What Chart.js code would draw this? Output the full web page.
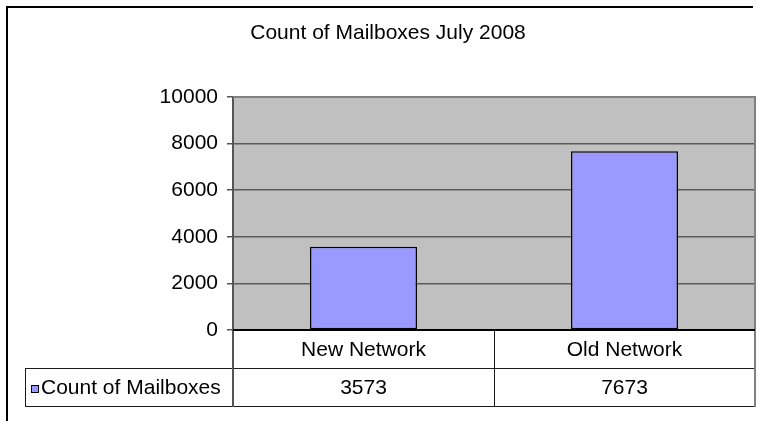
<!DOCTYPE html>
<html><head><meta charset="utf-8">
<script src="https://cdn.jsdelivr.net/npm/chart.js@4/dist/chart.umd.min.js"></script>
<style>html,body{margin:0;padding:0;background:#fff;}</style>
</head><body>
<canvas id="c" width="758" height="421" style="display:block;width:758px;height:421px"></canvas>
<script>
const titleText = 'Count of Mailboxes July 2008';
const categories = ['New Network', 'Old Network'];
const seriesName = 'Count of Mailboxes';
const mailboxCounts = [3573, 7673];
const yMin = 0, yMax = 10000, yStep = 2000;

const FONT = "'Liberation Sans', Arial, sans-serif";
const FSIZE = 21;
const BAR_COLOR = '#9999FF';

const excelDecor = {
  id: 'excelDecor',
  beforeDraw(chart) {
    const {ctx, chartArea: a} = chart;
    ctx.save();
    ctx.fillStyle = '#C0C0C0';
    ctx.fillRect(a.left, a.top, a.right - a.left, a.bottom - a.top);
    ctx.restore();
  },
  afterDraw(chart) {
    const {ctx, chartArea: a} = chart;
    const xs = chart.scales.x;
    ctx.save();
    // outer frame (top & left visible)
    ctx.strokeStyle = '#000';
    ctx.lineWidth = 2;
    ctx.beginPath();
    ctx.moveTo(7, 421); ctx.lineTo(7, 7); ctx.lineTo(753, 7);
    ctx.stroke();

    // title
    ctx.fillStyle = '#000';
    ctx.font = FSIZE + 'px ' + FONT;
    ctx.textAlign = 'center';
    ctx.textBaseline = 'middle';
    ctx.fillText(titleText, 388, 33);

    // plot border top / right
    ctx.strokeStyle = '#808080';
    ctx.lineWidth = 2;
    ctx.beginPath();
    ctx.moveTo(a.left, a.top); ctx.lineTo(a.right, a.top); ctx.lineTo(a.right, a.bottom);
    ctx.stroke();

    // data table
    const rowH = 38;
    const r1Top = a.bottom, r1Bot = a.bottom + rowH, r2Bot = a.bottom + 2 * rowH;
    const legendLeft = 25;
    const colW = (a.right - a.left) / categories.length;
    ctx.strokeStyle = '#1a1a1a';
    ctx.lineWidth = 1;
    ctx.beginPath();
    ctx.moveTo(a.left, r1Top + 0.5); ctx.lineTo(a.right, r1Top + 0.5);
    ctx.moveTo(legendLeft, r1Bot + 0.5); ctx.lineTo(a.right, r1Bot + 0.5);
    ctx.moveTo(legendLeft, r2Bot + 0.5); ctx.lineTo(a.right, r2Bot + 0.5);
    ctx.moveTo(legendLeft + 0.5, r1Bot); ctx.lineTo(legendLeft + 0.5, r2Bot);
    for (let i = 1; i < categories.length; i++) {
      const x = Math.round(a.left + colW * i) + 0.5;
      ctx.moveTo(x, r1Top); ctx.lineTo(x, r2Bot);
    }
    ctx.stroke();
    // axis line continuation & right edge
    ctx.strokeStyle = '#555';
    ctx.lineWidth = 2;
    ctx.beginPath();
    ctx.moveTo(a.left, r1Top); ctx.lineTo(a.left, r2Bot + 1);
    ctx.stroke();
    ctx.strokeStyle = '#808080';
    ctx.beginPath();
    ctx.moveTo(a.right, r1Top); ctx.lineTo(a.right, r2Bot + 1);
    ctx.stroke();
    // zero line
    ctx.strokeStyle = '#000';
    ctx.lineWidth = 2;
    ctx.beginPath();
    ctx.moveTo(a.left, a.bottom); ctx.lineTo(a.right, a.bottom);
    ctx.stroke();

    ctx.fillStyle = '#000';
    ctx.font = FSIZE + 'px ' + FONT;
    ctx.textAlign = 'center';
    ctx.textBaseline = 'middle';
    categories.forEach((c, i) => {
      const cx = xs.getPixelForValue(i);
      ctx.fillText(c, cx, (r1Top + r1Bot) / 2 + 1);
      ctx.fillText(String(mailboxCounts[i]), cx, (r1Bot + r2Bot) / 2 + 1);
    });
    // legend key
    ctx.fillStyle = BAR_COLOR;
    ctx.fillRect(31, 385, 8, 8);
    ctx.strokeStyle = '#000';
    ctx.lineWidth = 1;
    ctx.strokeRect(31.5, 385.5, 7, 7);
    ctx.fillStyle = '#000';
    ctx.textAlign = 'left';
    ctx.fillText(seriesName, 41, (r1Bot + r2Bot) / 2 + 1);
    ctx.restore();
  }
};

new Chart(document.getElementById('c'), {
  type: 'bar',
  data: {
    labels: categories,
    datasets: [{
      label: seriesName,
      data: mailboxCounts,
      backgroundColor: BAR_COLOR,
      borderColor: '#000',
      borderWidth: 1.5,
      borderSkipped: false,
      barPercentage: 0.41,
      categoryPercentage: 1.0
    }]
  },
  options: {
    responsive: false,
    animation: false,
    devicePixelRatio: 1,
    layout: { padding: { left: 133, right: 3, top: 97, bottom: 91 } },
    plugins: { legend: { display: false }, tooltip: { enabled: false }, title: { display: false } },
    scales: {
      x: { type: 'category', display: false, offset: true, grid: { display: false } },
      y: {
        min: yMin, max: yMax,
        afterFit(s) { s.width = 100; },
        ticks: { stepSize: yStep, color: '#000', padding: 9, font: { family: FONT, size: FSIZE },
                 callback: (v) => String(v) },
        grid: { color: '#5a5a5a', lineWidth: 1.5, tickLength: 6, tickColor: '#555' },
        border: { display: true, color: '#555', width: 2 }
      }
    }
  },
  plugins: [excelDecor]
});
</script>
</body></html>
